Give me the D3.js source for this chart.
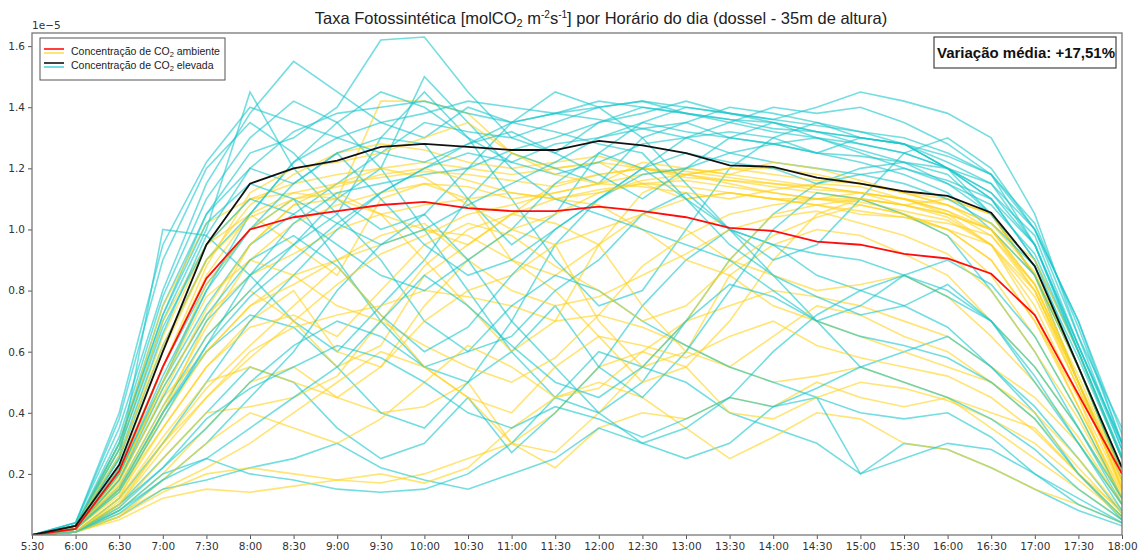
<!DOCTYPE html>
<html>
<head>
<meta charset="utf-8">
<script src="https://cdn.jsdelivr.net/npm/d3@7"></script>
<style>
  body { margin: 0; background: #fff; }
  svg { display: block; }
</style>
</head>
<body>
<div id="chart"></div>
<script>
// horarios (5:30 ate 18:00)
var horarios = ["5:30","6:00","6:30","7:00","7:30","8:00","8:30","9:00","9:30","10:00","10:30","11:00","11:30",
                "12:00","12:30","13:00","13:30","14:00","14:30","15:00","15:30","16:00","16:30","17:00","17:30","18:00"];

var yTicks = [0.2, 0.4, 0.6, 0.8, 1.0, 1.2, 1.4, 1.6];

// medias (x 1e-5)
var mediaAmbiente = [0,0.02,0.21,0.55,0.84,1.00,1.04,1.06,1.08,1.09,1.07,1.06,1.06,1.075,1.06,1.04,1.005,0.995,0.96,0.95,0.92,0.905,0.855,0.72,0.46,0.20];
var mediaElevada  = [0,0.03,0.23,0.60,0.95,1.15,1.20,1.225,1.27,1.28,1.27,1.26,1.26,1.29,1.275,1.25,1.21,1.205,1.17,1.15,1.125,1.11,1.055,0.88,0.55,0.22];

// dias individuais - CO2 ambiente
var diasAmbiente = [
  [0,0.03,0.25,0.65,0.95,1.1,1.15,1.18,1.2,1.22,1.2,1.18,1.2,1.22,1.2,1.18,1.15,1.12,1.1,1.08,1.05,1.0,0.95,0.8,0.5,0.15],
  [0,0.02,0.2,0.55,0.85,1.05,1.12,1.15,1.17,1.19,1.18,1.16,1.14,1.18,1.2,1.17,1.16,1.14,1.12,1.1,1.08,1.05,1.0,0.85,0.55,0.2],
  [0,0.01,0.12,0.4,0.7,0.95,1.08,1.1,1.42,1.42,1.38,1.25,1.2,1.22,1.15,1.1,1.12,1.1,1.08,1.05,1.04,1.0,0.9,0.7,0.45,0.1],
  [0,0.02,0.18,0.45,0.6,0.75,0.85,0.9,0.95,1.0,0.98,0.9,0.85,0.95,1.05,1.1,1.12,1.1,1.1,1.12,1.08,1.05,1.0,0.8,0.5,0.15],
  [0,0.01,0.08,0.2,0.35,0.5,0.55,0.45,0.4,0.42,0.5,0.3,0.4,0.55,0.6,0.7,0.75,0.8,0.78,0.75,0.7,0.65,0.55,0.45,0.3,0.1],
  [0,0.01,0.05,0.12,0.15,0.14,0.16,0.18,0.17,0.2,0.25,0.3,0.22,0.35,0.4,0.38,0.45,0.42,0.5,0.45,0.42,0.45,0.35,0.25,0.15,0.05],
  [0,0.02,0.15,0.35,0.55,0.7,0.8,0.6,0.55,0.75,0.9,1.0,0.95,0.7,0.55,0.6,0.85,0.95,1.0,0.98,0.92,0.85,0.7,0.55,0.35,0.12],
  [0,0.03,0.28,0.7,0.95,1.05,0.95,0.85,1.1,1.15,1.1,0.9,0.8,0.65,0.5,0.55,0.7,0.9,1.05,1.1,1.08,1.1,1.05,0.85,0.55,0.2],
  [0,0.02,0.2,0.48,0.72,0.85,0.92,1.0,1.05,1.08,1.1,1.12,1.1,1.13,1.15,1.16,1.14,1.12,1.1,1.09,1.06,1.03,0.95,0.75,0.45,0.15],
  [0,0.01,0.1,0.3,0.45,0.6,0.68,0.72,0.75,0.8,0.78,0.75,0.7,0.72,0.68,0.62,0.55,0.5,0.52,0.55,0.5,0.45,0.4,0.35,0.2,0.08],
  [0,0.02,0.22,0.6,0.9,1.08,1.18,1.25,1.28,1.26,1.22,1.2,1.22,1.24,1.2,1.18,1.16,1.15,1.14,1.12,1.1,1.08,1.02,0.9,0.6,0.25],
  [0,0.01,0.07,0.15,0.22,0.3,0.4,0.5,0.6,0.55,0.45,0.3,0.27,0.4,0.55,0.7,0.9,1.05,1.08,1.1,1.05,0.98,0.85,0.65,0.4,0.12],
  [0,0.02,0.15,0.4,0.65,0.8,0.7,0.55,0.62,0.85,0.95,1.05,1.1,1.08,1.0,0.9,0.85,0.75,0.7,0.65,0.6,0.55,0.5,0.4,0.25,0.08],
  [0,0.01,0.06,0.14,0.2,0.22,0.2,0.18,0.2,0.17,0.22,0.35,0.45,0.5,0.45,0.35,0.25,0.32,0.4,0.38,0.3,0.28,0.22,0.15,0.1,0.04],
  [0,0.02,0.18,0.5,0.82,1.0,1.1,1.12,1.05,0.9,0.75,0.6,0.7,0.95,1.12,1.18,1.2,1.2,1.18,1.15,1.12,1.1,1.05,0.85,0.5,0.18],
  [0,0.01,0.12,0.32,0.5,0.55,0.5,0.45,0.55,0.7,0.8,0.85,0.95,1.0,1.05,1.0,0.9,0.85,0.8,0.82,0.85,0.78,0.65,0.5,0.32,0.1],
  [0,0.03,0.3,0.75,1.02,1.1,1.12,1.1,1.05,1.0,0.95,1.05,1.15,1.18,1.2,1.19,1.17,1.15,1.13,1.12,1.1,1.06,1.0,0.82,0.5,0.2],
  [0,0.02,0.14,0.38,0.6,0.75,0.82,0.9,0.98,1.02,0.9,0.8,0.75,0.78,0.85,0.92,1.0,1.04,1.06,1.02,0.98,0.92,0.8,0.6,0.38,0.12],
  [0,0.01,0.09,0.25,0.4,0.42,0.45,0.52,0.7,0.88,1.0,1.05,1.02,0.95,0.75,0.6,0.55,0.65,0.75,0.72,0.65,0.6,0.5,0.38,0.22,0.07],
  [0,0.02,0.2,0.55,0.88,1.12,1.2,1.22,1.25,1.3,1.35,1.25,1.18,1.15,1.22,1.2,1.18,1.22,1.2,1.16,1.12,1.08,1.0,0.82,0.5,0.18],
  [0,0.02,0.16,0.42,0.68,0.9,1.02,1.08,1.12,1.15,1.14,1.1,1.12,1.15,1.18,1.2,1.18,1.16,1.14,1.12,1.1,1.06,0.98,0.8,0.48,0.16],
  [0,0.01,0.1,0.28,0.45,0.58,0.7,0.82,0.92,0.98,1.05,1.08,1.12,1.15,1.14,1.12,1.1,1.13,1.15,1.14,1.1,1.05,0.95,0.72,0.42,0.13],
  [0,0.02,0.19,0.5,0.78,0.9,0.85,0.75,0.7,0.62,0.55,0.5,0.58,0.72,0.88,0.98,1.05,1.08,1.1,1.1,1.08,1.04,0.95,0.78,0.48,0.17],
  [0,0.01,0.06,0.18,0.3,0.4,0.35,0.3,0.38,0.5,0.62,0.55,0.45,0.48,0.6,0.55,0.4,0.38,0.45,0.5,0.48,0.44,0.38,0.3,0.18,0.06],
  [0,0.03,0.26,0.62,0.9,1.04,1.1,1.14,1.18,1.2,1.16,1.12,1.1,1.12,1.15,1.14,1.12,1.1,1.08,1.06,1.04,1.02,0.98,0.82,0.52,0.2],
  [0,0.02,0.13,0.35,0.55,0.68,0.72,0.65,0.8,0.95,1.02,0.98,0.88,0.8,0.7,0.75,0.88,0.98,1.04,1.08,1.05,1.0,0.9,0.7,0.42,0.14],
  [0,0.01,0.11,0.3,0.48,0.62,0.75,0.88,0.72,0.55,0.45,0.4,0.55,0.65,0.62,0.58,0.65,0.7,0.62,0.58,0.55,0.52,0.45,0.34,0.2,0.06],
  [0,0.02,0.17,0.46,0.74,0.95,1.08,1.15,1.2,1.17,1.08,1.0,1.05,1.12,1.16,1.18,1.2,1.18,1.16,1.15,1.12,1.08,1.02,0.86,0.55,0.22]
];

// dias individuais - CO2 elevado
var diasElevada = [
  [0,0.04,0.35,0.8,1.15,1.38,1.55,1.45,1.35,1.3,1.4,1.35,1.38,1.4,1.42,1.38,1.35,1.32,1.3,1.28,1.25,1.2,1.1,0.9,0.6,0.25],
  [0,0.03,0.3,0.75,1.05,1.25,1.3,1.4,1.62,1.63,1.45,1.3,1.25,1.35,1.4,1.38,1.36,1.35,1.32,1.3,1.28,1.2,1.12,0.95,0.62,0.3],
  [0,0.02,0.25,1.0,0.98,0.85,0.7,0.6,0.75,0.9,1.1,1.25,1.2,1.15,1.3,1.35,1.4,1.38,1.35,1.3,1.28,1.22,1.15,0.95,0.6,0.25],
  [0,0.03,0.28,0.7,1.0,1.45,1.2,1.05,1.3,1.45,1.3,1.1,0.9,0.75,0.8,1.0,1.2,1.3,1.35,1.32,1.28,1.2,1.1,0.9,0.55,0.2],
  [0,0.01,0.08,0.2,0.25,0.2,0.18,0.15,0.14,0.15,0.2,0.3,0.45,0.6,0.55,0.5,0.4,0.35,0.3,0.2,0.3,0.28,0.22,0.15,0.08,0.03],
  [0,0.02,0.15,0.4,0.6,0.72,0.68,0.55,0.4,0.35,0.5,0.7,0.95,1.1,1.2,1.3,1.32,1.3,1.25,1.3,1.28,1.2,1.05,0.85,0.55,0.2],
  [0,0.03,0.32,0.78,1.1,1.3,1.42,1.35,1.2,1.0,0.8,0.6,0.45,0.4,0.5,0.7,0.9,1.05,1.15,1.2,1.22,1.18,1.05,0.85,0.5,0.18],
  [0,0.02,0.2,0.5,0.75,0.95,1.05,1.15,1.25,1.35,1.32,1.3,1.35,1.4,1.42,1.4,1.38,1.36,1.34,1.32,1.3,1.25,1.18,1.0,0.7,0.33],
  [0,0.01,0.1,0.25,0.4,0.55,0.5,0.35,0.25,0.3,0.45,0.27,0.4,0.55,0.75,0.9,1.0,0.95,0.85,0.8,0.75,0.68,0.55,0.4,0.2,0.05],
  [0,0.04,0.38,0.9,1.2,1.35,1.25,1.1,1.0,1.05,1.2,1.35,1.45,1.4,1.3,1.15,1.0,0.9,0.95,1.1,1.25,1.3,1.2,1.0,0.65,0.28],
  [0,0.02,0.18,0.45,0.7,0.85,0.95,1.05,0.9,0.7,0.6,0.65,0.8,0.9,1.05,1.12,1.0,0.85,0.7,0.55,0.6,0.65,0.55,0.42,0.25,0.07],
  [0,0.01,0.06,0.15,0.18,0.22,0.25,0.3,0.22,0.18,0.15,0.2,0.25,0.35,0.3,0.25,0.3,0.42,0.45,0.4,0.38,0.4,0.32,0.2,0.12,0.04],
  [0,0.03,0.3,0.72,1.05,1.2,1.15,1.25,1.3,1.28,1.1,0.95,1.05,1.25,1.35,1.4,1.38,1.36,1.4,1.45,1.42,1.38,1.3,1.05,0.65,0.35],
  [0,0.02,0.22,0.55,0.82,1.0,1.1,0.9,0.7,0.55,0.5,0.6,0.75,0.55,0.45,0.6,0.8,1.0,1.12,1.1,1.05,0.98,0.8,0.6,0.35,0.1],
  [0,0.01,0.12,0.3,0.5,0.7,0.85,1.0,1.12,1.2,1.25,1.22,1.28,1.3,1.33,1.35,1.3,1.28,1.25,1.22,1.18,1.12,1.0,0.85,0.55,0.22],
  [0,0.02,0.16,0.42,0.65,0.8,0.95,1.1,1.2,1.5,1.35,1.2,1.1,1.05,1.0,0.95,0.9,0.8,0.7,0.75,0.85,0.9,0.82,0.65,0.4,0.12],
  [0,0.03,0.25,0.62,0.9,1.05,1.22,1.3,1.35,1.38,1.42,1.4,1.38,1.36,1.33,1.3,1.25,1.22,1.2,1.18,1.15,1.1,1.02,0.88,0.58,0.25],
  [0,0.01,0.08,0.18,0.3,0.45,0.6,0.8,0.95,1.05,0.9,0.7,0.55,0.4,0.3,0.35,0.45,0.6,0.72,0.8,0.85,0.8,0.7,0.5,0.3,0.08],
  [0,0.02,0.2,0.5,0.8,1.05,1.22,1.35,1.45,1.4,1.3,1.22,1.18,1.22,1.28,1.3,1.35,1.4,1.38,1.4,1.35,1.28,1.18,0.95,0.62,0.28],
  [0,0.03,0.28,0.68,0.95,1.1,1.05,0.95,0.85,0.8,0.9,1.0,1.15,1.25,1.2,1.1,1.0,0.95,0.92,0.9,0.85,0.78,0.7,0.55,0.35,0.12],
  [0,0.01,0.1,0.22,0.35,0.5,0.62,0.7,0.65,0.55,0.6,0.75,0.85,0.8,0.7,0.62,0.55,0.5,0.45,0.2,0.25,0.3,0.28,0.2,0.1,0.04],
  [0,0.02,0.14,0.38,0.62,0.85,1.02,1.12,1.15,1.18,1.2,1.26,1.3,1.35,1.38,1.42,1.38,1.35,1.32,1.28,1.25,1.2,1.15,1.0,0.7,0.3],
  [0,0.03,0.26,0.66,0.98,1.2,1.32,1.38,1.4,1.42,1.38,1.35,1.38,1.42,1.4,1.38,1.36,1.33,1.32,1.3,1.28,1.24,1.18,1.02,0.68,0.3],
  [0,0.02,0.18,0.48,0.72,0.9,0.98,0.88,0.72,0.6,0.68,0.85,1.0,1.1,1.18,1.2,1.25,1.28,1.3,1.26,1.22,1.15,1.05,0.88,0.55,0.2],
  [0,0.01,0.09,0.22,0.38,0.48,0.55,0.62,0.58,0.5,0.4,0.35,0.42,0.38,0.32,0.38,0.45,0.42,0.48,0.55,0.5,0.45,0.38,0.28,0.15,0.05],
  [0,0.04,0.4,0.95,1.22,1.4,1.35,1.3,1.25,1.22,1.28,1.32,1.25,1.18,1.1,1.2,1.3,1.35,1.3,1.25,1.2,1.15,1.08,0.92,0.6,0.26],
  [0,0.02,0.2,0.52,0.8,1.0,1.15,1.25,1.1,0.95,0.85,0.9,1.0,1.1,1.2,1.25,1.22,1.2,1.15,1.18,1.2,1.16,1.1,0.95,0.6,0.25],
  [0,0.01,0.07,0.18,0.25,0.35,0.45,0.55,0.7,0.85,0.75,0.62,0.5,0.45,0.55,0.7,0.82,0.78,0.7,0.65,0.62,0.58,0.5,0.38,0.2,0.06],
  [0,0.03,0.3,0.72,1.02,1.15,1.1,1.02,0.95,1.0,1.08,1.15,1.22,1.3,1.35,1.32,1.3,1.28,1.25,1.24,1.22,1.2,1.12,0.98,0.62,0.3],
  [0,0.02,0.15,0.4,0.62,0.78,0.9,1.02,1.12,1.2,1.28,1.35,1.32,1.28,1.25,1.1,0.95,0.85,0.78,0.72,0.75,0.82,0.7,0.52,0.3,0.1]
];

var caixaTexto = "Variação média: +17,51%";

// svg container
var svgWidth = 1143;
var svgHeight = 556;

var margin = { top: 33, right: 21, bottom: 21, left: 32 };
var chartWidth = svgWidth - margin.left - margin.right;
var chartHeight = svgHeight - margin.top - margin.bottom;

var svg = d3.select("#chart")
            .append("svg")
            .attr("width", svgWidth)
            .attr("height", svgHeight);

var chartGroup = svg.append("g").attr("transform", `translate(${margin.left}, ${margin.top})`);

var xScale = d3.scalePoint()
               .domain(horarios)
               .range([0, chartWidth]);

var yScale = d3.scaleLinear()
               .domain([0, 1.643])
               .range([chartHeight, 0]);

svg.append("defs").append("clipPath").attr("id", "area")
   .append("rect").attr("width", chartWidth).attr("height", chartHeight);

var line = d3.line()
             .x((d, i) => xScale(horarios[i]))
             .y(d => yScale(d));

var plot = chartGroup.append("g").attr("clip-path", "url(#area)");

// alterna as cores como no original
var n = Math.max(diasAmbiente.length, diasElevada.length);
for (var i = 0; i < n; i++) {
    if (diasAmbiente[i]) {
        plot.append("path").attr("d", line(diasAmbiente[i]))
            .attr("fill", "none").attr("stroke", "#ffd21a")
            .attr("stroke-opacity", 0.6).attr("stroke-width", 1.6);
    }
    if (diasElevada[i]) {
        plot.append("path").attr("d", line(diasElevada[i]))
            .attr("fill", "none").attr("stroke", "#18c6cc")
            .attr("stroke-opacity", 0.6).attr("stroke-width", 1.6);
    }
}

plot.append("path").attr("d", line(mediaAmbiente))
    .attr("fill", "none").attr("stroke", "#ff0d0d").attr("stroke-width", 1.8);
plot.append("path").attr("d", line(mediaElevada))
    .attr("fill", "none").attr("stroke", "#111").attr("stroke-width", 1.8);

// axes
var xAxis = d3.axisBottom(xScale).tickSize(4).tickPadding(4);
var yAxis = d3.axisLeft(yScale).tickValues(yTicks).tickSize(4).tickPadding(3)
              .tickFormat(d3.format(".1f"));

var gx = chartGroup.append("g")
          .attr("transform", `translate(0, ${chartHeight})`)
          .call(xAxis);
var gy = chartGroup.append("g").call(yAxis);

[gx, gy].forEach(function(g) {
    g.select(".domain").remove();
    g.selectAll("line").attr("stroke", "#555");
    g.selectAll("text").attr("fill", "#333")
     .style("font-family", "DejaVu Sans, sans-serif").style("font-size", "10.5px");
});

// frame
chartGroup.append("rect")
          .attr("width", chartWidth).attr("height", chartHeight)
          .attr("fill", "none").attr("stroke", "#777").attr("stroke-width", 1.3);

// offset 1e-5
svg.append("text").attr("x", margin.left).attr("y", 29)
   .style("font-family", "DejaVu Sans, sans-serif").style("font-size", "10.5px")
   .attr("fill", "#333").text("1e\u22125");

// title
var title = svg.append("text").attr("x", 601).attr("y", 24)
   .attr("text-anchor", "middle")
   .style("font-family", "Liberation Sans, Arial, sans-serif").style("font-size", "16.5px")
   .attr("fill", "#222");
title.append("tspan").text("Taxa Fotossintética [molCO");
title.append("tspan").attr("font-size", "11px").attr("dy", 3).text("2");
title.append("tspan").attr("dy", -3).text(" m");
title.append("tspan").attr("font-size", "10px").attr("dy", -6).text("-2");
title.append("tspan").attr("dy", 6).text("s");
title.append("tspan").attr("font-size", "10px").attr("dy", -6).text("-1");
title.append("tspan").attr("dy", 6).text("] por Horário do dia (dossel - 35m de altura)");

// legend
var legend = svg.append("g").attr("transform", "translate(40, 38)");
legend.append("rect").attr("width", 185).attr("height", 42)
      .attr("fill", "#fff").attr("fill-opacity", 0.9)
      .attr("stroke", "#555").attr("stroke-width", 1);

var legendItems = [
    { cores: ["#ff0d0d", "#ffd21a"], rotulo: "ambiente", y: 11 },
    { cores: ["#111", "#18c6cc"], rotulo: "elevada", y: 25 }
];
legendItems.forEach(function(item) {
    item.cores.forEach(function(c, k) {
        legend.append("line").attr("x1", 4).attr("x2", 24)
              .attr("y1", item.y + k * 4).attr("y2", item.y + k * 4)
              .attr("stroke", c).attr("stroke-width", 1.6)
              .attr("stroke-opacity", k ? 0.75 : 1);
    });
    var t = legend.append("text").attr("x", 31).attr("y", item.y + 6)
                  .style("font-family", "Liberation Sans, Arial, sans-serif")
                  .style("font-size", "10.5px").attr("fill", "#222");
    t.append("tspan").text("Concentração de CO");
    t.append("tspan").attr("font-size", "7.5px").attr("dy", 2).text("2");
    t.append("tspan").attr("dy", -2).text(" " + item.rotulo);
});

// caixa de variacao media
var box = svg.append("g").attr("transform", "translate(934, 37)");
box.append("rect").attr("width", 182).attr("height", 31)
   .attr("fill", "#fff").attr("stroke", "#444").attr("stroke-width", 1.2);
box.append("text").attr("x", 92).attr("y", 21).attr("text-anchor", "middle")
   .style("font-family", "Liberation Sans, Arial, sans-serif")
   .style("font-size", "15px").style("font-weight", "bold")
   .attr("fill", "#111").text(caixaTexto);
</script>
</body>
</html>
